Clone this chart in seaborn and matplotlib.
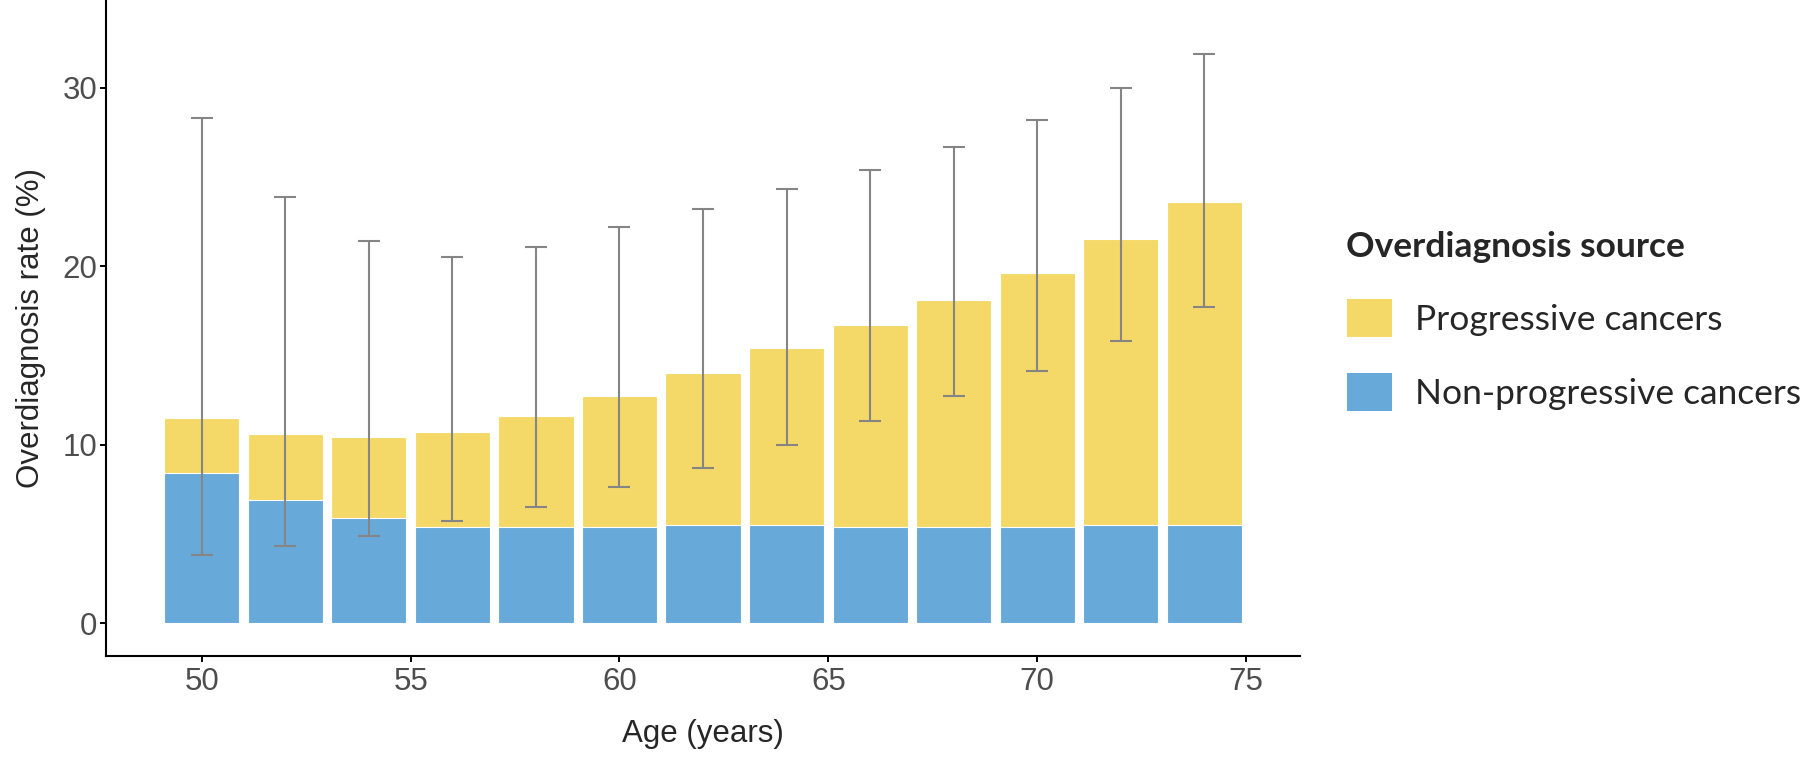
import numpy as np
import pandas as pd
import matplotlib
matplotlib.use("Agg")
import matplotlib.pyplot as plt
import seaborn as sns
from matplotlib.patches import Patch

# values
ages = [50, 52, 54, 56, 58, 60, 62, 64, 66, 68, 70, 72, 74]
non_progressive = [8.4, 6.9, 5.9, 5.4, 5.4, 5.4, 5.5, 5.5, 5.4, 5.4, 5.4, 5.5, 5.5]
total_rate = [11.5, 10.6, 10.4, 10.7, 11.6, 12.7, 14.0, 15.4, 16.7, 18.1, 19.6, 21.5, 23.6]
ci_low = [3.8, 4.3, 4.9, 5.7, 6.5, 7.6, 8.7, 10.0, 11.3, 12.7, 14.1, 15.8, 17.7]
ci_high = [28.3, 23.9, 21.4, 20.5, 21.1, 22.2, 23.2, 24.3, 25.4, 26.7, 28.2, 30.0, 31.9]

yellow = "#F4D968"
blue = "#67AADA"
err_grey = "#858585"

df = pd.DataFrame({"age": ages, "non_prog": non_progressive, "total": total_rate,
                   "low": ci_low, "high": ci_high})

sns.set_style("white")
plt.rcParams["font.family"] = ["Liberation Sans", "DejaVu Sans"]

fig = plt.figure(figsize=(18, 7.57), dpi=100)
ax = fig.add_axes([0.0587, 0.1334, 0.6635, 0.8666])

# stacked bars: total in yellow first, non-progressive part drawn over it
sns.barplot(data=df, x="age", y="total", native_scale=True, width=0.9,
            color=yellow, saturation=1, edgecolor="white", linewidth=0.8, ax=ax)
sns.barplot(data=df, x="age", y="non_prog", native_scale=True, width=0.9,
            color=blue, saturation=1, edgecolor="white", linewidth=0.8, ax=ax)

yerr = [df["total"] - df["low"], df["high"] - df["total"]]
ax.errorbar(df["age"], df["total"], yerr=yerr, fmt="none", ecolor=err_grey,
            elinewidth=1.5, capsize=7.8, capthick=1.5, zorder=5)

ax.set_xlim(47.70, 76.29)
ax.set_ylim(-1.85, 34.92)
ax.set_xticks([50, 55, 60, 65, 70, 75])
ax.set_yticks([0, 10, 20, 30])

for side in ["top", "right"]:
    ax.spines[side].set_visible(False)
for side in ["left", "bottom"]:
    ax.spines[side].set_linewidth(1.5)
    ax.spines[side].set_color("black")

ax.tick_params(axis="both", which="major", length=4, width=1.4, color="black",
               labelsize=22.5, labelcolor="#4D4D4D", direction="out",
               bottom=True, left=True)
ax.tick_params(axis="x", pad=4)
ax.tick_params(axis="y", pad=2)

ax.set_xlabel("Age (years)", fontsize=22.5, labelpad=16)
ax.set_ylabel("Overdiagnosis rate (%)", fontsize=22.5, labelpad=12)

# legend: title as its own text, entries as a legend without title
fig.text(0.7478, 1 - 257 / 757, "Overdiagnosis source", family="Lato",
         weight="bold", size=25.5, ha="left", va="baseline")
handles = [Patch(facecolor=yellow, edgecolor="none", label="Progressive cancers"),
           Patch(facecolor=blue, edgecolor="none", label="Non-progressive cancers")]
leg = fig.legend(handles=handles, loc="upper left",
                 bbox_to_anchor=(0.7482, 1 - 299 / 757), frameon=False,
                 borderpad=0, borderaxespad=0, handlelength=1.27, handleheight=1.27,
                 handletextpad=0.65, labelspacing=1.02,
                 prop={"family": "Lato", "size": 25.5})

fig.savefig("out.png", dpi=100)
